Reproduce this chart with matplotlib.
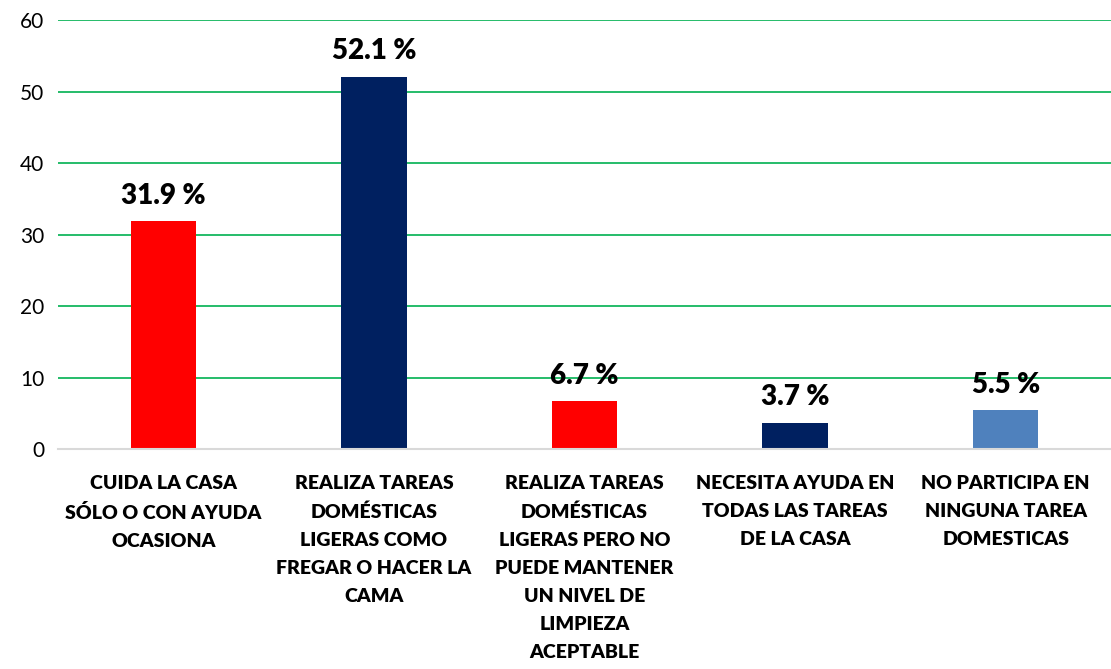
import matplotlib
matplotlib.use('Agg')
import matplotlib.pyplot as plt

categories = [
    "CUIDA LA CASA\nSÓLO O CON AYUDA\nOCASIONA",
    "REALIZA TAREAS\nDOMÉSTICAS\nLIGERAS COMO\nFREGAR O HACER LA\nCAMA",
    "REALIZA TAREAS\nDOMÉSTICAS\nLIGERAS PERO NO\nPUEDE MANTENER\nUN NIVEL DE\nLIMPIEZA\nACEPTABLE",
    "NECESITA AYUDA EN\nTODAS LAS TAREAS\nDE LA CASA",
    "NO PARTICIPA EN\nNINGUNA TAREA\nDOMESTICAS",
]
values = [31.9, 52.1, 6.7, 3.7, 5.5]
colors = ['#FF0000', '#002060', '#FF0000', '#002060', '#4F81BD']

plt.rcParams['font.family'] = ['Lato', 'DejaVu Sans']

fig = plt.figure(figsize=(11.11, 6.69), dpi=100)
ax = fig.add_axes([0.0522, 0.3288, 0.9478, 0.6412])

x = range(len(values))
ax.bar(x, values, width=0.31, color=colors, zorder=3)

for xi, v in zip(x, values):
    ax.text(xi, v + 1.7, f"{v:.1f} %", ha='center', va='bottom',
            fontsize=20, fontweight='heavy', color='black', zorder=4)

ax.set_xlim(-0.5, len(values) - 0.5)
ax.set_ylim(0, 60)
ax.set_yticks(range(0, 61, 10))
ax.yaxis.grid(True, color='#00B050', lw=1.2, zorder=0)
ax.set_axisbelow(True)
for s in ['top', 'right', 'left']:
    ax.spines[s].set_visible(False)
ax.spines['bottom'].set_color('#D9D9D9')
ax.spines['bottom'].set_linewidth(1.5)
ax.spines['bottom'].set_zorder(5)

ax.set_xticks(list(x))
ax.set_xticklabels(categories, fontsize=14, fontweight='heavy',
                   linespacing=1.78, va='top')
ax.tick_params(axis='x', length=0, pad=19)
ax.tick_params(axis='y', length=0, labelsize=15, pad=10)

fig.savefig('out.png', dpi=100)
